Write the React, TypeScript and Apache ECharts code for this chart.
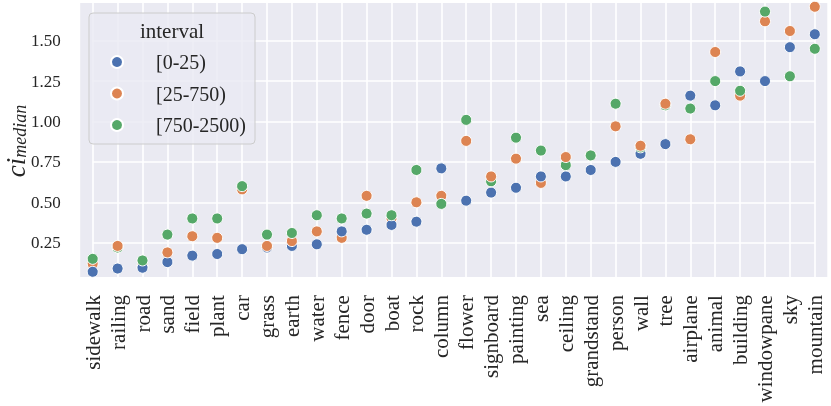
import React, { useEffect, useRef } from "react";
import * as echarts from "echarts";

const categories = [
  "sidewalk", "railing", "road", "sand", "field", "plant", "car", "grass", "earth", "water",
  "fence", "door", "boat", "rock", "column", "flower", "signboard", "painting", "sea", "ceiling",
  "grandstand", "person", "wall", "tree", "airplane", "animal", "building", "windowpane", "sky", "mountain",
];
const seriesNames = ["[0-25)", "[25-750)", "[750-2500)"];
const blueValues = [
  0.07, 0.09, 0.095, 0.13, 0.17, 0.18, 0.21, 0.22, 0.23, 0.24,
  0.32, 0.33, 0.36, 0.38, 0.71, 0.51, 0.56, 0.59, 0.66, 0.66,
  0.70, 0.75, 0.80, 0.86, 1.16, 1.10, 1.31, 1.25, 1.46, 1.54,
];
const orangeValues = [
  0.12, 0.23, 0.105, 0.19, 0.29, 0.28, 0.58, 0.23, 0.26, 0.32,
  0.28, 0.54, 0.40, 0.50, 0.54, 0.88, 0.66, 0.77, 0.62, 0.78,
  0.79, 0.97, 0.85, 1.11, 0.89, 1.43, 1.16, 1.62, 1.56, 1.71,
];
const greenValues = [
  0.15, 0.22, 0.14, 0.30, 0.40, 0.40, 0.60, 0.30, 0.31, 0.42,
  0.40, 0.43, 0.42, 0.70, 0.49, 1.01, 0.63, 0.90, 0.82, 0.73,
  0.79, 1.11, 0.84, 1.10, 1.08, 1.25, 1.19, 1.68, 1.28, 1.45,
];
// drawing order quirks: where green sits underneath orange, and where blue sits above orange
const greenBehindOrange = ["railing", "wall", "tree", "signboard", "ceiling"];
const blueOverOrange = ["sidewalk", "road", "fence", "boat", "sea"];
const yTicks = [0.25, 0.5, 0.75, 1.0, 1.25, 1.5];

const colors = ["#4C72B0", "#DD8452", "#55A868"];
const FONT = "'Liberation Serif', 'Times New Roman', serif";
const TEXT = "#262626";

export default function App() {
  const ref = useRef<HTMLDivElement>(null);
  useEffect(() => {
    if (!ref.current) return;
    const chart = echarts.init(ref.current, null, { renderer: "svg" });
    const pointStyle = (c: string) => ({ color: c, borderColor: "#ffffff", borderWidth: 1, opacity: 1 });
    const pick = (vals: number[], list: string[], inList: boolean) =>
      vals.map((v, i) => (list.includes(categories[i]) === inList ? v : "-"));
    const base = { type: "scatter", symbol: "circle", symbolSize: 11, emphasis: { disabled: true } };
    chart.setOption({
      animation: false,
      grid: { left: 92.7, right: 16.2, top: 0.3, bottom: 122.9, outerBoundsMode: "none", containLabel: false },
      xAxis: {
        type: "category",
        data: categories,
        boundaryGap: false,
        axisLine: { show: false },
        axisTick: { show: false },
        splitLine: { show: true, lineStyle: { color: "#ffffff", width: 1.6 } },
        axisLabel: { rotate: 90, margin: 12, interval: 0, fontFamily: FONT, fontSize: 21, color: TEXT },
      },
      yAxis: {
        type: "value",
        min: 0,
        max: 1.75,
        interval: 0.25,
        axisLine: { show: false },
        axisTick: { show: false },
        splitLine: { show: true, lineStyle: { color: "#ffffff", width: 1.6 } },
        axisLabel: {
          margin: 32,
          fontFamily: FONT,
          fontSize: 17,
          color: TEXT,
          formatter: (v: number) => (yTicks.some((t) => Math.abs(t - v) < 1e-6) ? v.toFixed(2) : ""),
        },
      },
      legend: {
        data: seriesNames,
        orient: "vertical",
        left: 105,
        top: 47,
        z: 12,
        icon: "circle",
        itemWidth: 12,
        itemHeight: 12,
        itemGap: 11.5,
        selectedMode: false,
        textStyle: { fontFamily: FONT, fontSize: 20, color: TEXT, lineHeight: 20, padding: [0, 0, 0, 28] },
      },
      graphic: [
        { type: "rect", z: -10, silent: true, shape: { x: 80.2, y: 3, width: 747.1, height: 274 }, style: { fill: "#EAEAF2" } },
        {
          type: "rect", z: 10, silent: true,
          shape: { x: 89, y: 13, width: 166, height: 131, r: 4 },
          style: { fill: "rgba(234,234,242,0.8)", stroke: "#CCCCCC", lineWidth: 1 },
        },
        {
          type: "text", z: 11, silent: true, x: 172, y: 31,
          style: { text: "interval", fontFamily: FONT, fontSize: 21, fill: TEXT, align: "center", verticalAlign: "middle" },
        },
        {
          type: "text", z: 11, silent: true, x: 16, y: 141, rotation: Math.PI / 2,
          style: {
            text: "{a|ci}{b|median}",
            align: "center",
            verticalAlign: "middle",
            fill: TEXT,
            rich: {
              a: { fontFamily: FONT, fontStyle: "italic", fontSize: 27, lineHeight: 26, fill: TEXT },
              b: { fontFamily: FONT, fontStyle: "italic", fontSize: 18, lineHeight: 18, fill: TEXT, padding: [8, 0, 0, 0] },
            },
          },
        },
      ],
      series: [
        { ...base, name: seriesNames[0], z: 2, data: pick(blueValues, blueOverOrange, false), itemStyle: pointStyle(colors[0]) },
        { ...base, name: seriesNames[2], z: 3, data: pick(greenValues, greenBehindOrange, true), itemStyle: pointStyle(colors[2]) },
        { ...base, name: seriesNames[1], z: 4, data: orangeValues, itemStyle: pointStyle(colors[1]) },
        { ...base, name: seriesNames[0], z: 5, data: pick(blueValues, blueOverOrange, true), itemStyle: pointStyle(colors[0]) },
        { ...base, name: seriesNames[2], z: 6, data: pick(greenValues, greenBehindOrange, false), itemStyle: pointStyle(colors[2]) },
      ],
    });
    return () => chart.dispose();
  }, []);
  return <div ref={ref} style={{ position: "fixed", left: 0, top: 0, width: 831, height: 406 }} />;
}
